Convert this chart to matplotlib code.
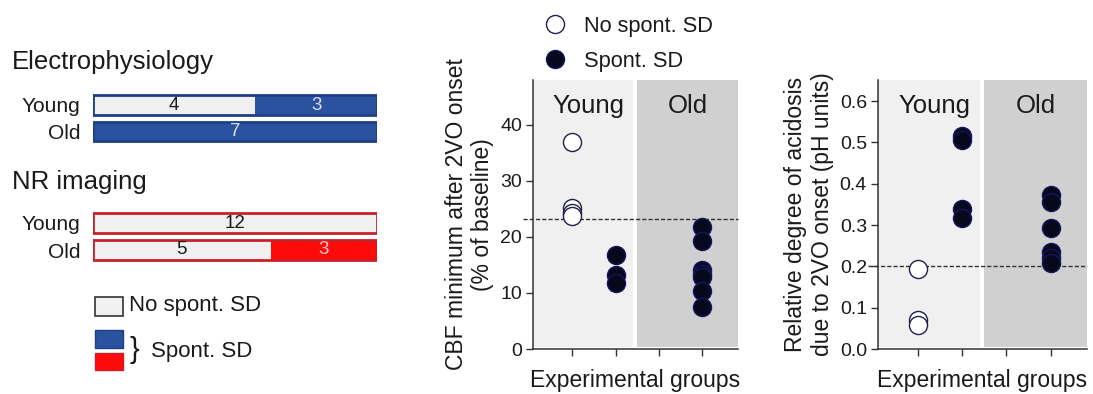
import matplotlib
matplotlib.use("Agg")
import matplotlib.pyplot as plt
from matplotlib.patches import Rectangle
from matplotlib.lines import Line2D
import numpy as np

plt.rcParams['font.family'] = ['Liberation Sans', 'DejaVu Sans']

# ---------------- data ----------------
rows = ["Young", "Old"]
ephys_no_sd = [4, 0]
ephys_sd = [3, 7]
nr_no_sd = [12, 5]
nr_sd = [0, 3]

group_x = [1, 2, 3, 4]  # 1: Young no SD, 2: Young SD, 3: Old no SD, 4: Old SD

cbf_young_no = [37.0, 25.2, 24.2, 23.7]
cbf_young_sd = [16.8, 13.2, 11.8]
cbf_old_sd = [21.8, 19.3, 14.1, 13.4, 12.9, 10.4, 7.5]
cbf_threshold = 23.2

ph_young_no = [0.193, 0.07, 0.058]
ph_young_sd = [0.515, 0.505, 0.34, 0.317]
ph_old_sd = [0.372, 0.355, 0.292, 0.234, 0.22, 0.208]
ph_threshold = 0.2

# ---------------- styles ----------------
W, H = 1093, 394
fig = plt.figure(figsize=(W / 100, H / 100), dpi=100)
LIGHT = '#f0f0f0'
BLUE = '#2b529e'
BLUE_EDGE = '#1f3f85'
RED = '#ff0a0a'
RED_EDGE = '#c8202a'
OLD_BG = '#d0d0d0'
TXT = '#1a1a1a'
TICK_FS = 14
LAB_FS = 16.5

def fx(px):
    return px / W

def fy(py):
    return 1 - py / H

# ---------------- left: stacked bars ----------------
def bar_panel(rect, no_sd, sd, sd_color, edge, num_color):
    ax = fig.add_axes(rect)
    totals = np.array(no_sd) + np.array(sd)
    frac_no = np.array(no_sd) / totals
    frac_sd = np.array(sd) / totals
    y = np.arange(len(rows))
    h = 0.74
    ax.barh(y, frac_no, height=h, color=LIGHT, edgecolor='none')
    ax.barh(y, frac_sd, left=frac_no, height=h, color=sd_color, edgecolor='none')
    ax.barh(y, np.ones(len(rows)), height=h, color='none', edgecolor=edge, linewidth=2)
    for i in range(len(rows)):
        if no_sd[i] > 0:
            ax.text(frac_no[i] / 2, y[i], str(no_sd[i]), ha='center', va='center',
                    fontsize=13.5, color=TXT)
        if sd[i] > 0:
            ax.text(frac_no[i] + frac_sd[i] / 2, y[i], str(sd[i]), ha='center',
                    va='center', fontsize=13.5, color=num_color)
    ax.set_xlim(0, 1)
    ax.set_ylim(len(rows) - 0.5, -0.5)
    ax.set_yticks(y)
    ax.set_yticklabels(rows, fontsize=15, color=TXT)
    ax.tick_params(axis='y', length=0, pad=9)
    ax.set_xticks([])
    for s in ax.spines.values():
        s.set_visible(False)
    ax.patch.set_alpha(0)
    return ax

bar_panel([fx(93), fy(144.75), fx(377 - 93), 53 / H], ephys_no_sd, ephys_sd,
          BLUE, BLUE_EDGE, '#d5e2f5')
bar_panel([fx(93), fy(263.5), fx(377 - 93), 54 / H], nr_no_sd, nr_sd,
          RED, RED_EDGE, '#ffc8c8')

fig.text(fx(12), fy(62), "Electrophysiology", fontsize=18.5, color=TXT, va='center', ha='left')
fig.text(fx(12), fy(182), "NR imaging", fontsize=18.5, color=TXT, va='center', ha='left')

# legend swatches (left)
fig.patches.append(Rectangle((fx(95), fy(316)), fx(28), 19 / H, transform=fig.transFigure,
                             facecolor=LIGHT, edgecolor='#333333', linewidth=1.2))
fig.patches.append(Rectangle((fx(95), fy(348)), fx(28), 18 / H, transform=fig.transFigure,
                             facecolor=BLUE, edgecolor=BLUE_EDGE, linewidth=1))
fig.patches.append(Rectangle((fx(95), fy(370)), fx(28), 17 / H, transform=fig.transFigure,
                             facecolor=RED, edgecolor=RED_EDGE, linewidth=1))
fig.text(fx(129), fy(306), "No spont. SD", fontsize=16, color=TXT, va='center', ha='left')
fig.text(fx(130), fy(350), "}", fontsize=21, color=TXT, va='center', ha='left')
fig.text(fx(151), fy(351), "Spont. SD", fontsize=16, color=TXT, va='center', ha='left')

# ---------------- scatter panels ----------------
OPEN_KW = dict(marker='o', markersize=13, markerfacecolor='white', markeredgecolor='#20204a',
               markeredgewidth=1.0, linestyle='none')
FILL_KW = dict(marker='o', markersize=13, markerfacecolor='#08081c', markeredgecolor='#151560',
               markeredgewidth=1.0, linestyle='none')

def scatter_panel(rect, ylim, yticks, yticklabels, ylabel, young_no, young_sd, old_sd, thr):
    ax = fig.add_axes(rect)
    xl = (0.1, 4.82)
    ax.axvspan(xl[0], 2.4, ymin=0.006, color=LIGHT, zorder=0, linewidth=0)
    ax.axvspan(2.5, xl[1], ymin=0.006, color=OLD_BG, zorder=0, linewidth=0)
    ax.axhline(thr, xmin=-0.05, xmax=1.0, color='#333333', linestyle=(0, (3, 1.5)),
               linewidth=1, clip_on=False, zorder=2)
    ax.plot([group_x[0]] * len(young_no), young_no, zorder=3, **OPEN_KW)
    ax.plot([group_x[1]] * len(young_sd), young_sd, zorder=3, **FILL_KW)
    ax.plot([group_x[3]] * len(old_sd), old_sd, zorder=3, **FILL_KW)
    ax.set_xlim(*xl)
    ax.set_ylim(*ylim)
    ax.set_xticks(group_x)
    ax.set_xticklabels([])
    ax.set_yticks(yticks)
    ax.set_yticklabels(yticklabels, fontsize=TICK_FS, color=TXT)
    ax.tick_params(direction='out', length=5, width=1, color='#333333')
    ax.tick_params(axis='y', pad=3)
    for s in ['top', 'right']:
        ax.spines[s].set_visible(False)
    for s in ['left', 'bottom']:
        ax.spines[s].set_color('#333333')
        ax.spines[s].set_linewidth(1.1)
    ax.set_xlabel("Experimental groups", fontsize=LAB_FS, color=TXT, labelpad=6)
    ax.set_ylabel(ylabel, fontsize=LAB_FS, color=TXT, labelpad=4, linespacing=1.2)
    ax.text(0.27, 0.905, "Young", transform=ax.transAxes, ha='center', va='center',
            fontsize=18.5, color=TXT)
    ax.text(0.755, 0.905, "Old", transform=ax.transAxes, ha='center', va='center',
            fontsize=18.5, color=TXT)
    return ax

ax_cbf = scatter_panel([fx(533), fy(349), fx(738 - 533), (349 - 80) / H], (0, 48),
                       [0, 10, 20, 30, 40], ['0', '10', '20', '30', '40'],
                       "CBF minimum after 2VO onset\n(% of baseline)",
                       cbf_young_no, cbf_young_sd, cbf_old_sd, cbf_threshold)

ax_ph = scatter_panel([fx(878), fy(349), fx(1087 - 878), (349 - 80) / H], (0, 0.651),
                      [0, 0.1, 0.2, 0.3, 0.4, 0.5, 0.6],
                      ['0.0', '0.1', '0.2', '0.3', '0.4', '0.5', '0.6'],
                      "Relative degree of acidosis\ndue to 2VO onset (pH units)",
                      ph_young_no, ph_young_sd, ph_old_sd, ph_threshold)

# top legend
handles = [Line2D([], [], **OPEN_KW), Line2D([], [], **FILL_KW)]
fig.legend(handles, ["No spont. SD", "Spont. SD"], loc='upper left',
           bbox_to_anchor=(fx(544), fy(16)), frameon=False, fontsize=15.7,
           handletextpad=0.85, labelspacing=0.62, handlelength=1.0, borderaxespad=0,
           borderpad=0, labelcolor=TXT)

fig.savefig("out.png", dpi=100, facecolor='white')
